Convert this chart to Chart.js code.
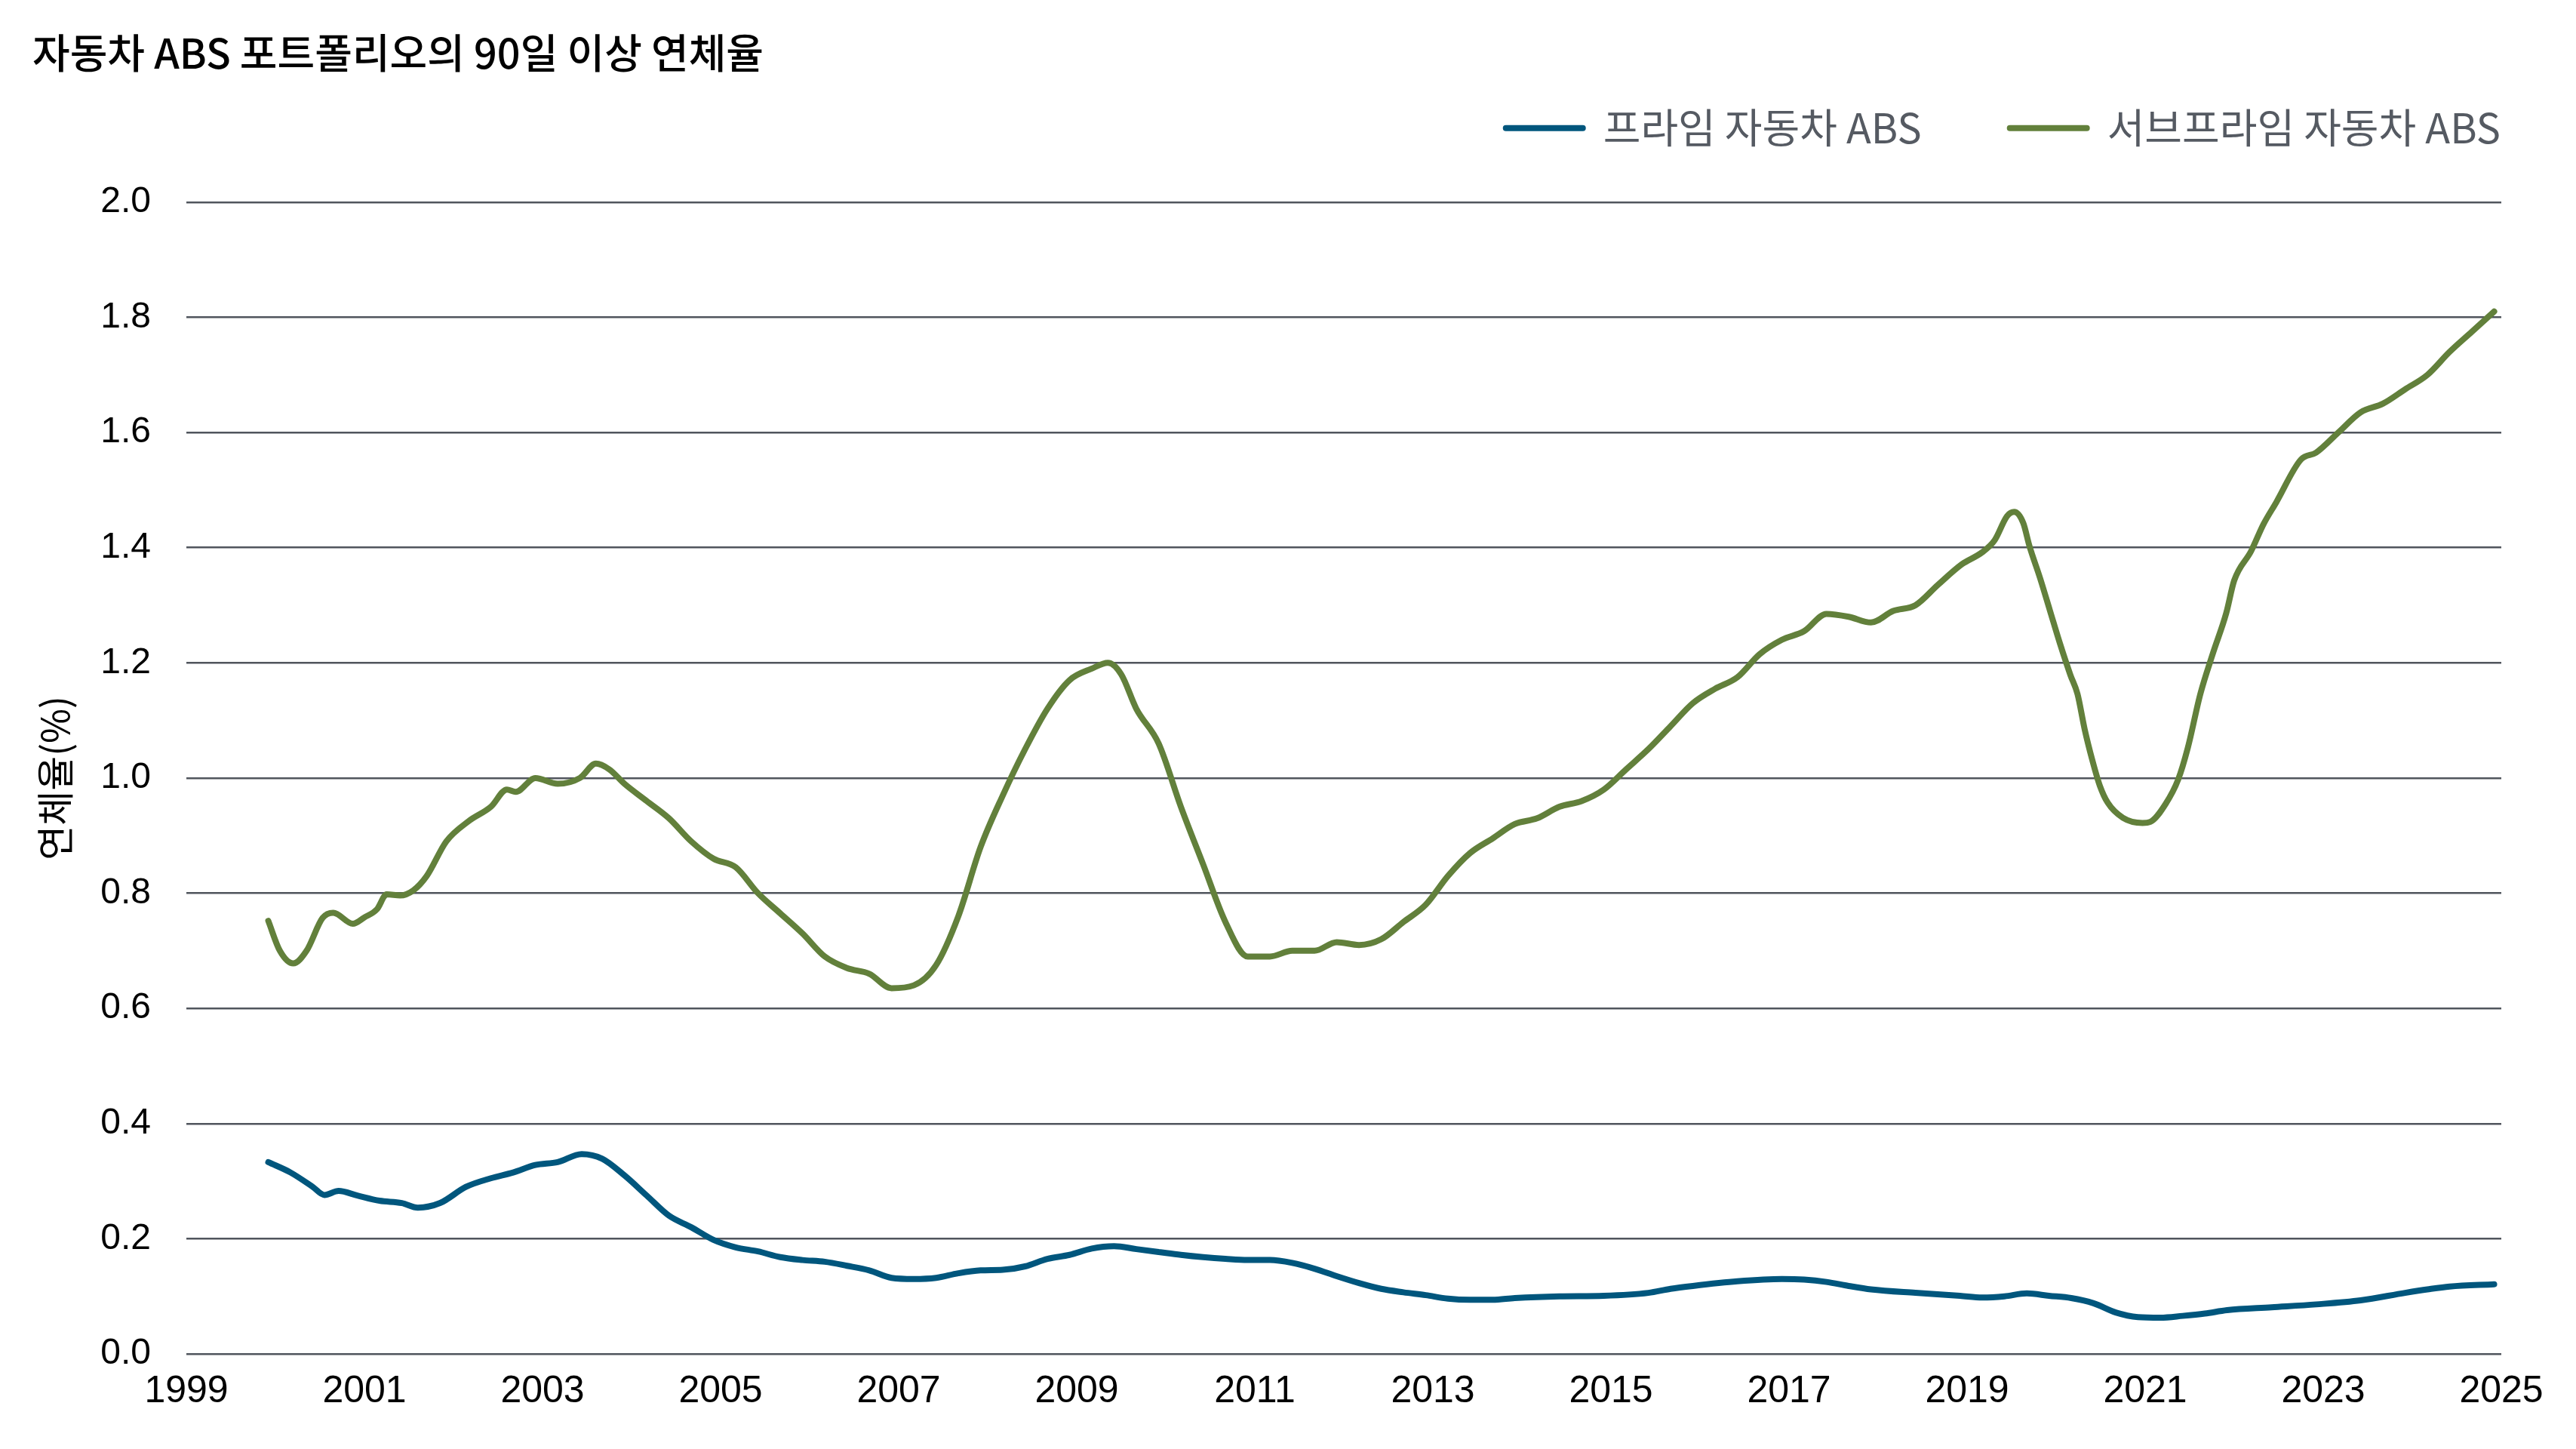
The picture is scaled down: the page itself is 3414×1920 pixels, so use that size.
<!DOCTYPE html>
<html>
<head>
<meta charset="utf-8">
<script src="https://cdn.jsdelivr.net/npm/chart.js@4.4.1/dist/chart.umd.min.js"></script>
<style>
  body { margin: 0; background: #fff; }
</style>
</head>
<body>
<canvas id="myChart" width="3414" height="1920"></canvas>
<script>
const ctx = document.querySelector("#myChart");

const seriesNames = ['프라임 자동차 ABS', '서브프라임 자동차 ABS'];
const yearTicks = [1999, 2001, 2003, 2005, 2007, 2009, 2011, 2013, 2015, 2017, 2019, 2021, 2023, 2025];
const rateTicks = [0, 0.2, 0.4, 0.6, 0.8, 1.0, 1.2, 1.4, 1.6, 1.8, 2.0];

// 프라임 (decimal year, %)
const primeDates = [
    1999.92, 2000.17, 2000.42, 2000.55, 2000.71, 2000.92, 2001.17, 2001.42, 2001.6, 2001.85,
    2002.14, 2002.42, 2002.67, 2002.92, 2003.17, 2003.44, 2003.67, 2003.92, 2004.17, 2004.42,
    2004.67, 2004.92, 2005.17, 2005.42, 2005.67, 2005.92, 2006.17, 2006.42, 2006.67, 2006.92,
    2007.17, 2007.42, 2007.67, 2007.92, 2008.17, 2008.42, 2008.67, 2008.92, 2009.17, 2009.42,
    2009.67, 2009.92, 2010.17, 2010.42, 2010.67, 2010.92, 2011.17, 2011.42, 2011.67, 2011.92,
    2012.17, 2012.42, 2012.67, 2012.92, 2013.17, 2013.42, 2013.67, 2013.92, 2014.42, 2014.92,
    2015.42, 2015.67, 2015.92, 2016.42, 2016.92, 2017.17, 2017.42, 2017.67, 2017.92, 2018.42,
    2018.92, 2019.17, 2019.42, 2019.67, 2019.92, 2020.17, 2020.42, 2020.67, 2020.92, 2021.17,
    2021.42, 2021.67, 2021.92, 2022.42, 2022.92, 2023.42, 2023.92, 2024.17, 2024.42, 2024.92
];
const primeRates = [
    0.333, 0.315, 0.290, 0.276, 0.283, 0.275, 0.266, 0.262, 0.254, 0.262,
    0.290, 0.305, 0.315, 0.328, 0.333, 0.347, 0.339, 0.310, 0.275, 0.240,
    0.220, 0.198, 0.185, 0.178, 0.168, 0.163, 0.160, 0.153, 0.145, 0.132,
    0.130, 0.132, 0.140, 0.145, 0.146, 0.152, 0.165, 0.172, 0.183, 0.187,
    0.182, 0.177, 0.172, 0.168, 0.165, 0.163, 0.163, 0.158, 0.148, 0.135,
    0.123, 0.113, 0.107, 0.102, 0.096, 0.094, 0.094, 0.097, 0.100, 0.101,
    0.106, 0.113, 0.118, 0.126, 0.130, 0.129, 0.125, 0.118, 0.112, 0.106,
    0.101, 0.098, 0.100, 0.105, 0.101, 0.097, 0.088, 0.072, 0.064, 0.063,
    0.066, 0.070, 0.076, 0.081, 0.086, 0.093, 0.106, 0.112, 0.117, 0.121
];

// 서브프라임 (decimal year, %)
const subDates = [
    1999.92, 2000.05, 2000.2, 2000.35, 2000.53, 2000.65, 2000.87, 2001.0, 2001.14, 2001.25,
    2001.4, 2001.55, 2001.7, 2001.92, 2002.17, 2002.42, 2002.6, 2002.7, 2002.92, 2003.17,
    2003.42, 2003.6, 2003.75, 2003.92, 2004.17, 2004.42, 2004.67, 2004.92, 2005.17, 2005.42,
    2005.67, 2005.92, 2006.17, 2006.42, 2006.67, 2006.92, 2007.17, 2007.42, 2007.67, 2007.92,
    2008.17, 2008.42, 2008.67, 2008.92, 2009.17, 2009.35, 2009.5, 2009.67, 2009.92, 2010.17,
    2010.42, 2010.67, 2010.92, 2011.17, 2011.42, 2011.67, 2011.92, 2012.17, 2012.42, 2012.67,
    2012.92, 2013.17, 2013.42, 2013.67, 2013.92, 2014.17, 2014.42, 2014.67, 2014.92, 2015.17,
    2015.42, 2015.67, 2015.92, 2016.17, 2016.42, 2016.67, 2016.92, 2017.17, 2017.42, 2017.67,
    2017.92, 2018.17, 2018.42, 2018.67, 2018.94, 2019.17, 2019.31, 2019.45, 2019.53, 2019.63,
    2019.7, 2019.82, 2019.93, 2020.04, 2020.16, 2020.24, 2020.32, 2020.41, 2020.49, 2020.58,
    2020.75, 2020.97, 2021.06, 2021.23, 2021.37, 2021.48, 2021.62, 2021.76, 2021.91, 2022.0,
    2022.19, 2022.33, 2022.47, 2022.75, 2022.92, 2023.17, 2023.42, 2023.67, 2023.92, 2024.17,
    2024.42, 2024.67, 2024.92
];
const subRates = [
    0.752, 0.700, 0.678, 0.700, 0.757, 0.766, 0.747, 0.758, 0.772, 0.798,
    0.796, 0.805, 0.830, 0.890, 0.925, 0.950, 0.980, 0.976, 1.000, 0.990,
    1.000, 1.025, 1.015, 0.990, 0.960, 0.930, 0.890, 0.860, 0.845, 0.800,
    0.765, 0.730, 0.690, 0.670, 0.660, 0.635, 0.640, 0.675, 0.760, 0.880,
    0.970, 1.050, 1.120, 1.170, 1.190, 1.200, 1.180, 1.120, 1.060, 0.950,
    0.850, 0.750, 0.690, 0.690, 0.700, 0.700, 0.715, 0.710, 0.720, 0.750,
    0.780, 0.830, 0.870, 0.895, 0.920, 0.930, 0.950, 0.960, 0.980, 1.015,
    1.050, 1.090, 1.130, 1.155, 1.175, 1.215, 1.240, 1.255, 1.285, 1.280,
    1.270, 1.290, 1.300, 1.335, 1.371, 1.392, 1.413, 1.455, 1.462, 1.443,
    1.403, 1.347, 1.291, 1.235, 1.179, 1.146, 1.085, 1.029, 0.987, 0.957,
    0.931, 0.922, 0.924, 0.955, 0.997, 1.053, 1.146, 1.216, 1.286, 1.343,
    1.394, 1.441, 1.478, 1.553, 1.565, 1.600, 1.635, 1.650, 1.675, 1.700,
    1.740, 1.775, 1.810
];

const toPoints = (xs, ys) => xs.map((x, i) => ({ x: x, y: ys[i] }));

const myChart = new Chart(ctx, {
    type: 'line',
    data: {
        datasets: [{
            label: seriesNames[0],
            data: toPoints(primeDates, primeRates),
            borderColor: '#00567d',
            backgroundColor: '#00567d',
            borderWidth: 8,
            borderCapStyle: 'round',
            borderJoinStyle: 'round',
            pointRadius: 0,
            cubicInterpolationMode: 'monotone'
        }, {
            label: seriesNames[1],
            data: toPoints(subDates, subRates),
            borderColor: '#62803b',
            backgroundColor: '#62803b',
            borderWidth: 8,
            borderCapStyle: 'round',
            borderJoinStyle: 'round',
            pointRadius: 0,
            cubicInterpolationMode: 'monotone'
        }]
    },
    options: {
        responsive: false,
        animation: false,
        devicePixelRatio: 1,
        layout: { padding: { left: 43, right: -17, top: 0, bottom: 46 } },
        plugins: {
            title: {
                display: true,
                text: '자동차 ABS 포트폴리오의 90일 이상 연체율',
                align: 'start',
                color: '#000',
                font: { family: "'Noto Sans CJK KR'", size: 54, weight: 500, lineHeight: 1.2 },
                padding: { top: 38, bottom: -77 }
            },
            // empty spacer between legend and plot
            subtitle: {
                display: true,
                text: '',
                weight: 500,
                font: { size: 1, lineHeight: 1 },
                padding: { top: 60, bottom: 0 }
            },
            legend: {
                position: 'top',
                align: 'end',
                labels: {
                    boxWidth: 102,
                    boxHeight: 0,
                    padding: 117,
                    color: '#555a62',
                    font: { family: "'Noto Sans CJK KR'", size: 54 }
                }
            },
            tooltip: { enabled: false }
        },
        scales: {
            x: {
                type: 'linear',
                min: 1999,
                max: 2025,
                afterBuildTicks: (scale) => { scale.ticks = yearTicks.map(v => ({ value: v })); },
                afterFit: (scale) => { scale.paddingRight = 99; scale.height = 80; },
                grid: { display: false, drawTicks: false },
                border: { display: false },
                ticks: {
                    autoSkip: false,
                    maxRotation: 0,
                    padding: 20,
                    color: '#000',
                    font: { family: "'Liberation Sans'", size: 50 },
                    callback: (v) => String(v)
                }
            },
            y: {
                min: 0,
                max: 2,
                afterBuildTicks: (scale) => { scale.ticks = rateTicks.map(v => ({ value: v })); },
                afterFit: (scale) => { scale.width = 204; },
                grid: { color: '#50555d', lineWidth: 2.5, drawTicks: false },
                border: { display: false },
                ticks: {
                    padding: 47,
                    color: '#000',
                    font: { family: "'Liberation Sans'", size: 48 },
                    callback: (v) => v.toFixed(1)
                },
                title: {
                    display: true,
                    text: '연체율(%)',
                    color: '#000',
                    font: { family: "'Noto Sans CJK KR'", size: 50 },
                    padding: { top: 0, bottom: 0 }
                }
            }
        }
    }
});
</script>
</body>
</html>
